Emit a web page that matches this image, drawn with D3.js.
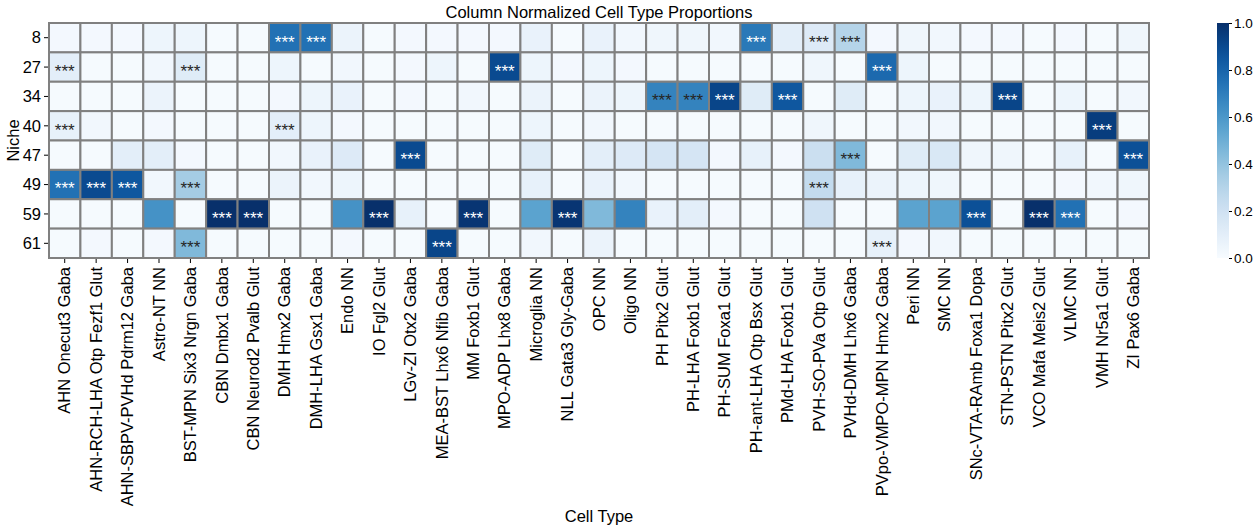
<!DOCTYPE html>
<meta charset="utf-8">
<head>
  <script src="https://d3js.org/d3.v7.min.js"></script>
</head>
<style>
  body { margin: 0; background: #fff; }
  text { font-family: "Liberation Sans", Arial, sans-serif; fill: #000; }
</style>
<body>
<script>
  // niches (rows) and cell types (columns)
  const niches = ["8", "27", "34", "40", "47", "49", "59", "61"];
  const cellTypes = [
    "AHN Onecut3 Gaba", "AHN-RCH-LHA Otp Fezf1 Glut", "AHN-SBPV-PVHd Pdrm12 Gaba", "Astro-NT NN",
    "BST-MPN Six3 Nrgn Gaba", "CBN Dmbx1 Gaba", "CBN Neurod2 Pvalb Glut", "DMH Hmx2 Gaba",
    "DMH-LHA Gsx1 Gaba", "Endo NN", "IO Fgl2 Glut", "LGv-ZI Otx2 Gaba", "MEA-BST Lhx6 Nfib Gaba",
    "MM Foxb1 Glut", "MPO-ADP Lhx8 Gaba", "Microglia NN", "NLL Gata3 Gly-Gaba", "OPC NN", "Oligo NN",
    "PH Pitx2 Glut", "PH-LHA Foxb1 Glut", "PH-SUM Foxa1 Glut", "PH-ant-LHA Otp Bsx Glut",
    "PMd-LHA Foxb1 Glut", "PVH-SO-PVa Otp Glut", "PVHd-DMH Lhx6 Gaba", "PVpo-VMPO-MPN Hmx2 Gaba",
    "Peri NN", "SMC NN", "SNc-VTA-RAmb Foxa1 Dopa", "STN-PSTN Pitx2 Glut", "VCO Mafa Meis2 Glut",
    "VLMC NN", "VMH Nr5a1 Glut", "ZI Pax6 Gaba"
  ];

  // column normalized proportions, one array per niche
  const niche8  = [0.02,0.02,0.02,0.05,0.05,0.01,0.01,0.75,0.75,0.06,0.01,0.02,0.02,0.02,0.02,0.07,0.01,0.07,0.03,0.04,0.04,0.03,0.72,0.10,0.13,0.30,0.02,0.04,0.03,0.02,0.02,0.01,0.02,0.01,0.04];
  const niche27 = [0.10,0.01,0.01,0.03,0.12,0.01,0.01,0.05,0.01,0.03,0.01,0.02,0.05,0.01,0.90,0.05,0.02,0.05,0.02,0.01,0.01,0.01,0.01,0.01,0.04,0.01,0.78,0.05,0.01,0.01,0.01,0.01,0.01,0.01,0.01];
  const niche34 = [0.01,0.01,0.01,0.06,0.01,0.01,0.01,0.02,0.05,0.07,0.01,0.02,0.01,0.03,0.01,0.06,0.01,0.06,0.05,0.68,0.68,0.92,0.12,0.85,0.01,0.12,0.01,0.05,0.07,0.05,0.92,0.01,0.05,0.01,0.03];
  const niche40 = [0.08,0.03,0.01,0.02,0.01,0.01,0.01,0.10,0.05,0.02,0.01,0.01,0.01,0.01,0.01,0.05,0.01,0.03,0.01,0.01,0.01,0.01,0.01,0.01,0.04,0.01,0.01,0.03,0.03,0.01,0.01,0.01,0.01,0.95,0.01];
  const niche47 = [0.01,0.01,0.10,0.10,0.02,0.01,0.01,0.03,0.07,0.13,0.01,0.90,0.01,0.01,0.01,0.12,0.01,0.10,0.13,0.17,0.17,0.02,0.08,0.02,0.22,0.45,0.01,0.12,0.15,0.04,0.04,0.01,0.08,0.01,0.88];
  const niche49 = [0.75,0.90,0.85,0.03,0.35,0.01,0.01,0.06,0.03,0.05,0.01,0.01,0.01,0.01,0.01,0.08,0.01,0.07,0.03,0.01,0.01,0.01,0.01,0.01,0.25,0.08,0.06,0.05,0.04,0.01,0.01,0.01,0.02,0.03,0.04];
  const niche59 = [0.01,0.01,0.01,0.62,0.01,1.00,1.00,0.01,0.01,0.62,1.00,0.08,0.01,0.98,0.01,0.55,0.98,0.45,0.68,0.07,0.10,0.02,0.01,0.01,0.20,0.01,0.01,0.55,0.55,0.88,0.01,1.00,0.75,0.01,0.02];
  const niche61 = [0.01,0.02,0.01,0.02,0.45,0.01,0.01,0.01,0.01,0.02,0.01,0.01,0.92,0.01,0.01,0.03,0.01,0.06,0.01,0.01,0.01,0.01,0.01,0.01,0.01,0.01,0.08,0.02,0.03,0.01,0.01,0.01,0.01,0.01,0.01];
  const values = [niche8, niche27, niche34, niche40, niche47, niche49, niche59, niche61];

  // significant cells (column indices per niche), marked "***"
  const stars = [
    [7, 8, 22, 24, 25],
    [0, 4, 14, 26],
    [19, 20, 21, 23, 30],
    [0, 7, 33],
    [11, 25, 34],
    [0, 1, 2, 4, 24],
    [5, 6, 10, 13, 16, 29, 31, 32],
    [4, 12, 26]
  ];
  const cbarTicks = [0, 0.2, 0.4, 0.6, 0.8, 1.0];

  const W = 1259, H = 531;
  const margin = { left: 49, top: 23, right: 110, bottom: 273 };
  const plotW = 1149 - margin.left, plotH = 258 - margin.top;

  const svg = d3.select("body").append("svg")
    .attr("width", W).attr("height", H);

  const x = d3.scaleBand().domain(cellTypes).range([margin.left, margin.left + plotW]).padding(0);
  const y = d3.scaleBand().domain(niches).range([margin.top, margin.top + plotH]).padding(0);
  const color = d3.scaleSequential(d3.interpolateBlues).domain([0, 1]);

  const cells = [];
  values.forEach((row, i) => row.forEach((v, j) => {
    cells.push({ niche: niches[i], type: cellTypes[j], v: v, star: stars[i].includes(j) });
  }));

  svg.append("g").selectAll("rect")
    .data(cells).enter().append("rect")
    .attr("x", d => x(d.type))
    .attr("y", d => y(d.niche))
    .attr("width", x.bandwidth())
    .attr("height", y.bandwidth())
    .attr("fill", d => color(d.v))
    .attr("stroke", "#808080")
    .attr("stroke-width", 2);

  const starSize = 17;
  svg.append("g").selectAll("text")
    .data(cells.filter(d => d.star)).enter().append("text")
    .attr("x", d => x(d.type) + x.bandwidth() / 2)
    .attr("y", d => y(d.niche) + y.bandwidth() / 2 + starSize * 0.58)
    .attr("text-anchor", "middle")
    .style("font-size", starSize + "px")
    .style("fill", d => d.v > 0.7 ? "#fff" : "#262626")
    .text("***");

  // axes
  const yAxis = svg.append("g")
    .attr("transform", `translate(${margin.left - 1},0)`)
    .call(d3.axisLeft(y).tickSize(4).tickPadding(3));
  yAxis.select(".domain").remove();
  yAxis.selectAll("text").style("font-size", "16.5px").attr("dy", "0.35em");

  const xAxis = svg.append("g")
    .attr("transform", `translate(0,${margin.top + plotH + 1})`)
    .call(d3.axisBottom(x).tickSize(4).tickPadding(3));
  xAxis.select(".domain").remove();
  xAxis.selectAll("text")
    .style("font-size", "16.5px")
    .attr("text-anchor", "end")
    .attr("transform", "rotate(-90)")
    .attr("x", -8).attr("y", 0).attr("dy", "0.35em");

  svg.append("text")
    .attr("x", margin.left + plotW / 2).attr("y", 18)
    .attr("text-anchor", "middle").style("font-size", "16.5px")
    .text("Column Normalized Cell Type Proportions");

  svg.append("text")
    .attr("x", margin.left + plotW / 2).attr("y", 522)
    .attr("text-anchor", "middle").style("font-size", "16.5px")
    .text("Cell Type");

  svg.append("text")
    .attr("transform", `translate(19,${margin.top + plotH / 2}) rotate(-90)`)
    .attr("text-anchor", "middle").style("font-size", "16.5px")
    .text("Niche");

  // colorbar
  const cb = { x: 1217, w: 12 };
  const cy = d3.scaleLinear().domain([0, 1]).range([margin.top + plotH, margin.top]);
  const grad = svg.append("defs").append("linearGradient")
    .attr("id", "cbar").attr("x1", 0).attr("y1", 1).attr("x2", 0).attr("y2", 0);
  grad.selectAll("stop").data(d3.range(0, 1.0001, 0.05)).enter().append("stop")
    .attr("offset", d => d).attr("stop-color", d => color(d));
  svg.append("rect")
    .attr("x", cb.x).attr("y", margin.top)
    .attr("width", cb.w).attr("height", plotH)
    .attr("fill", "url(#cbar)");
  const cAxis = svg.append("g")
    .attr("transform", `translate(${cb.x + cb.w},0)`)
    .call(d3.axisRight(cy).tickValues(cbarTicks).tickFormat(d3.format(".1f")).tickSize(3).tickPadding(2));
  cAxis.select(".domain").remove();
  cAxis.selectAll("text").style("font-size", "13.5px");
</script>
</body>
